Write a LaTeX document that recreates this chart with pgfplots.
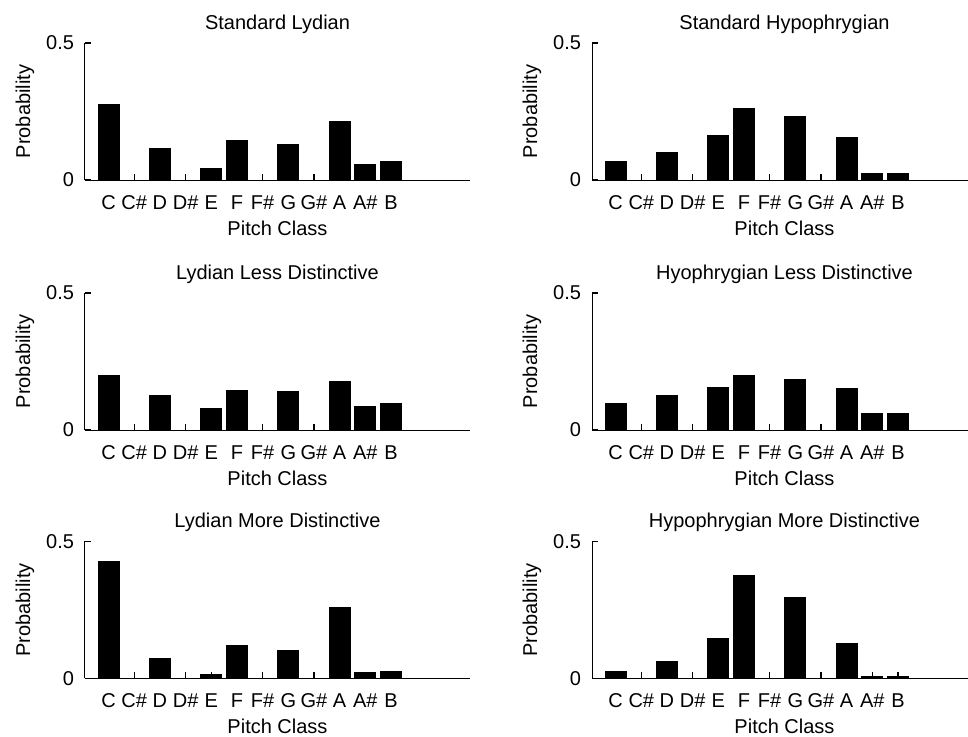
\documentclass[border=0pt]{standalone}
\usepackage{fontspec}
\setmainfont{Liberation Sans}
\usepackage{pgfplots}
\pgfplotsset{compat=1.18}
\pgfplotsset{
  mystyle/.style={
    scale only axis, width=192.5pt, height=68.5pt,
    xmin=0.08, xmax=15.08, ymin=0, ymax=0.5,
    axis x line*=bottom, axis y line*=left,
    axis line style={-, line width=0.5pt, black},
    xtick={1,...,12},
    xticklabels={C,C\#,D,D\#,E,F,F\#,G,G\#,A,A\#,B},
    ytick={0,0.5}, yticklabels={0,0.5},
    tick align=inside, major tick length=3pt,
    major tick style={black, line width=0.6pt},
    xtick style={yshift=3pt},
    axis on top,
    ybar, bar width=0.82,
    font=\fontsize{10}{12}\selectfont,
    ticklabel style={font=\fontsize{10}{12}\selectfont},
    /pgf/number format/assume math mode=true,
    xticklabel style={anchor=base, yshift=-11.5pt},
    yticklabel style={xshift=-2pt},
    ylabel={Probability}, xlabel={Pitch Class},
    every axis y label/.style={at={(axis description cs:-0.156,0.5)},rotate=90,anchor=center},
    every axis x label/.style={at={(axis description cs:0.5,-0.35)},anchor=center},
    every axis title/.style={at={(axis description cs:0.5,1.14)},anchor=center},
  },
  bars/.style={fill=black, draw=black, line width=0.5pt},
}
\begin{document}
\begin{tikzpicture}
\begin{axis}[mystyle, at={(42.5pt,278pt)}, anchor=south west, title={Standard Lydian}]
\addplot[bars] coordinates {(1,0.274) (2,0) (3,0.114) (4,0) (5,0.043) (6,0.143) (7,0) (8,0.131) (9,0) (10,0.215) (11,0.055) (12,0.067)};
\end{axis}
\begin{axis}[mystyle, at={(296pt,278pt)}, anchor=south west, title={Standard Hypophrygian}]
\addplot[bars] coordinates {(1,0.067) (2,0) (3,0.102) (4,0) (5,0.162) (6,0.262) (7,0) (8,0.232) (9,0) (10,0.156) (11,0.024) (12,0.024)};
\end{axis}
\begin{axis}[mystyle, at={(42.5pt,153pt)}, anchor=south west, title={Lydian Less Distinctive}]
\addplot[bars] coordinates {(1,0.198) (2,0) (3,0.127) (4,0) (5,0.079) (6,0.145) (7,0) (8,0.139) (9,0) (10,0.176) (11,0.085) (12,0.096)};
\end{axis}
\begin{axis}[mystyle, at={(296pt,153pt)}, anchor=south west, title={Hyophrygian Less Distinctive}]
\addplot[bars] coordinates {(1,0.096) (2,0) (3,0.127) (4,0) (5,0.156) (6,0.198) (7,0) (8,0.185) (9,0) (10,0.150) (11,0.061) (12,0.061)};
\end{axis}
\begin{axis}[mystyle, at={(42.5pt,28.85pt)}, anchor=south west, title={Lydian More Distinctive}]
\addplot[bars] coordinates {(1,0.426) (2,0) (3,0.072) (4,0) (5,0.015) (6,0.121) (7,0) (8,0.103) (9,0) (10,0.258) (11,0.020) (12,0.026)};
\end{axis}
\begin{axis}[mystyle, at={(296pt,28.85pt)}, anchor=south west, title={Hypophrygian More Distinctive}]
\addplot[bars] coordinates {(1,0.026) (2,0) (3,0.061) (4,0) (5,0.145) (6,0.377) (7,0) (8,0.294) (9,0) (10,0.127) (11,0.007) (12,0.007)};
\end{axis}
\pgfresetboundingbox
\path[use as bounding box] (0,0) rectangle (484pt,368pt);
\end{tikzpicture}
\end{document}
